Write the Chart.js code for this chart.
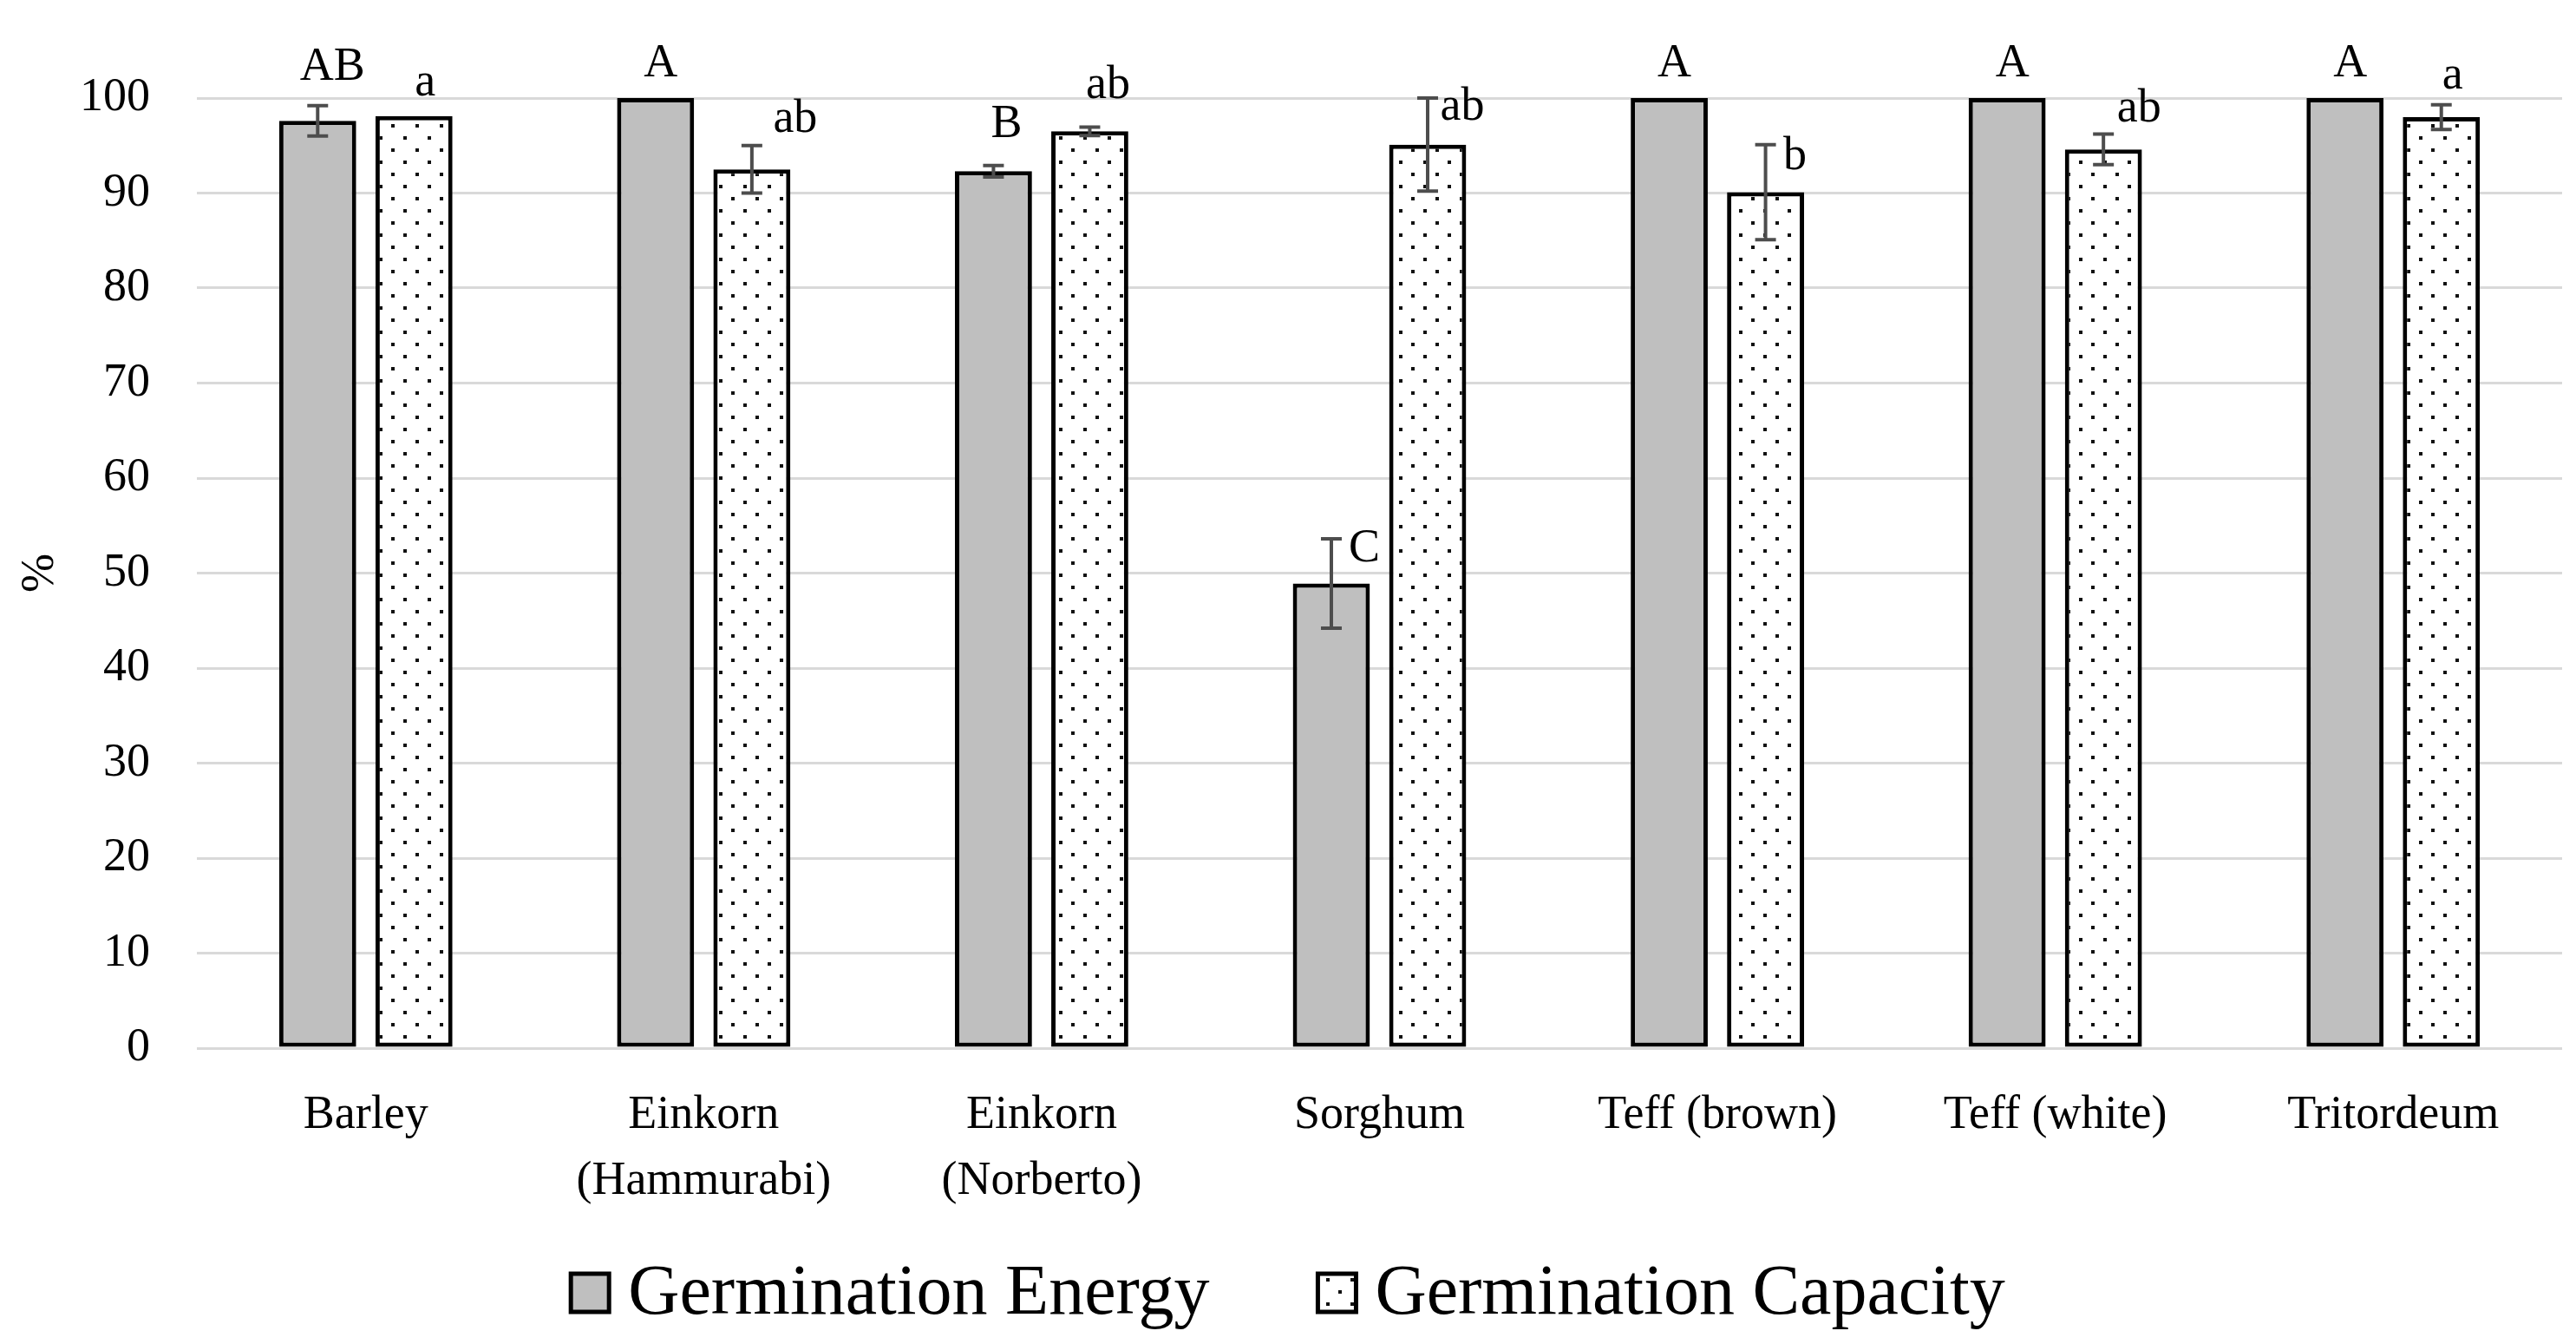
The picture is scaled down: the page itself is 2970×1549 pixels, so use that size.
<!DOCTYPE html>
<html lang="en">
<head>
<meta charset="UTF-8">
<title>Germination Energy and Germination Capacity</title>
<script src="https://cdn.jsdelivr.net/npm/chart.js"></script>
<style>
  html, body { margin: 0; padding: 0; background: #fff; }
  #wrap { width: 2970px; height: 1549px; }
</style>
</head>
<body>
<div id="wrap"><canvas id="chart"></canvas></div>
<script>
// values (%)
const categories = ['Barley', ['Einkorn', '(Hammurabi)'], ['Einkorn', '(Norberto)'], 'Sorghum', 'Teff (brown)', 'Teff (white)', 'Tritordeum'];
const energy = [97.6, 100, 92.3, 48.9, 100, 100, 100];
const energyErr = [1.6, 0, 0.6, 4.7, 0, 0, 0];
const energyLetters = ['AB', 'A', 'B', 'C', 'A', 'A', 'A'];
const capacity = [98.1, 92.5, 96.5, 95.1, 90.1, 94.6, 98.0];
const capacityErr = [0, 2.5, 0.45, 4.9, 5.0, 1.6, 1.3];
const capacityLetters = ['a', 'ab', 'ab', 'ab', 'b', 'ab', 'a'];

const FONT = '"Liberation Serif", "Times New Roman", serif';
Chart.defaults.font.family = FONT;
Chart.defaults.color = '#000';

// dotted fill like the Excel "5%" pattern
function dotPattern() {
  const c = document.createElement('canvas');
  c.width = 28; c.height = 28;
  const g = c.getContext('2d');
  g.fillStyle = '#fff';
  g.fillRect(0, 0, 28, 28);
  g.fillStyle = '#111';
  g.fillRect(3, 3, 4, 4);
  g.fillRect(17, 17, 4, 4);
  return g.createPattern(c, 'repeat');
}

// error bars + significance letters, and the legend row
const extras = {
  id: 'extras',
  afterDatasetsDraw(chart, args, opts) {
    const ctx = chart.ctx;
    const yScale = chart.scales.y;
    ctx.save();
    chart.data.datasets.forEach((ds, di) => {
      const meta = chart.getDatasetMeta(di);
      meta.data.forEach((bar, i) => {
        const v = ds.data[i], e = ds.errors[i];
        const top = yScale.getPixelForValue(v + e);
        if (e > 0) {
          const bot = yScale.getPixelForValue(v - e);
          ctx.strokeStyle = '#4d4d4d';
          ctx.lineWidth = 4;
          ctx.beginPath();
          ctx.moveTo(bar.x, top); ctx.lineTo(bar.x, bot);
          ctx.moveTo(bar.x - 12, top); ctx.lineTo(bar.x + 12, top);
          ctx.moveTo(bar.x - 12, bot); ctx.lineTo(bar.x + 12, bot);
          ctx.stroke();
        }
        const nudge = opts.nudge[di][i];
        ctx.fillStyle = '#000';
        ctx.font = '54px ' + FONT;
        ctx.textAlign = 'center';
        ctx.textBaseline = 'alphabetic';
        ctx.fillText(ds.letters[i], bar.x + nudge[0], top - 30 + nudge[1]);
      });
    });
    ctx.restore();
  },
  afterDraw(chart, args, opts) {
    const ctx = chart.ctx;
    const box = 44, gap = 22, itemGap = 125;
    ctx.save();
    ctx.font = '82px ' + FONT;
    const items = chart.data.datasets.map(ds => ({ ds, w: ctx.measureText(ds.label).width }));
    const total = items.reduce((s, it) => s + box + gap + it.w, 0) + itemGap * (items.length - 1);
    let x = chart.width / 2 - total / 2;
    const cy = opts.legendY;
    items.forEach(it => {
      ctx.fillStyle = it.ds.backgroundColor;
      ctx.fillRect(x, cy - box / 2, box, box);
      ctx.strokeStyle = '#000';
      ctx.lineWidth = 5;
      ctx.strokeRect(x, cy - box / 2, box, box);
      x += box + gap;
      ctx.fillStyle = '#000';
      ctx.textAlign = 'left';
      ctx.textBaseline = 'alphabetic';
      ctx.fillText(it.ds.label, x, cy + 24);
      x += it.w + itemGap;
    });
    ctx.restore();
  }
};

new Chart(document.getElementById('chart'), {
  type: 'bar',
  data: {
    labels: categories,
    datasets: [
      {
        label: 'Germination Energy',
        data: energy,
        errors: energyErr,
        letters: energyLetters,
        backgroundColor: '#bfbfbf',
        borderColor: '#000',
        borderWidth: 5,
        borderSkipped: false,
        categoryPercentage: 0.57,
        barPercentage: 0.8
      },
      {
        label: 'Germination Capacity',
        data: capacity,
        errors: capacityErr,
        letters: capacityLetters,
        backgroundColor: dotPattern(),
        borderColor: '#000',
        borderWidth: 5,
        borderSkipped: false,
        categoryPercentage: 0.57,
        barPercentage: 0.8
      }
    ]
  },
  options: {
    responsive: true,
    maintainAspectRatio: false,
    devicePixelRatio: 1,
    animation: false,
    layout: { padding: { top: 113, right: 16, bottom: 157, left: 0 } },
    plugins: {
      legend: { display: false },
      tooltip: { enabled: false },
      extras: {
        legendY: 1490,
        // label placement tweaks [dx, dy] in px, as in the original figure
        nudge: [
          [[17, 0], [6, 5], [15, -3], [38, 56], [6, 5], [6, 5], [6, 5]],
          [[13, 6], [50, 14], [21, -3], [40, 55], [34, 58], [41, 15], [13, 11]]
        ]
      }
    },
    scales: {
      x: {
        grid: { display: false, drawTicks: false },
        border: { display: false },
        ticks: { color: '#000', font: { size: 54, lineHeight: 1.4 }, padding: 40, maxRotation: 0, autoSkip: false },
        afterFit(scale) { scale.height = 184; }
      },
      y: {
        min: 0,
        max: 100,
        ticks: { stepSize: 10, padding: 54, color: '#000', font: { size: 54 } },
        grid: { color: '#d9d9d9', lineWidth: 3, drawTicks: false },
        border: { display: false },
        title: { display: true, text: '%', color: '#000', font: { size: 54, lineHeight: 1 }, padding: { top: 20, bottom: 0 } },
        afterFit(scale) { scale.width = 227; }
      }
    }
  },
  plugins: [extras]
});
</script>
</body>
</html>
